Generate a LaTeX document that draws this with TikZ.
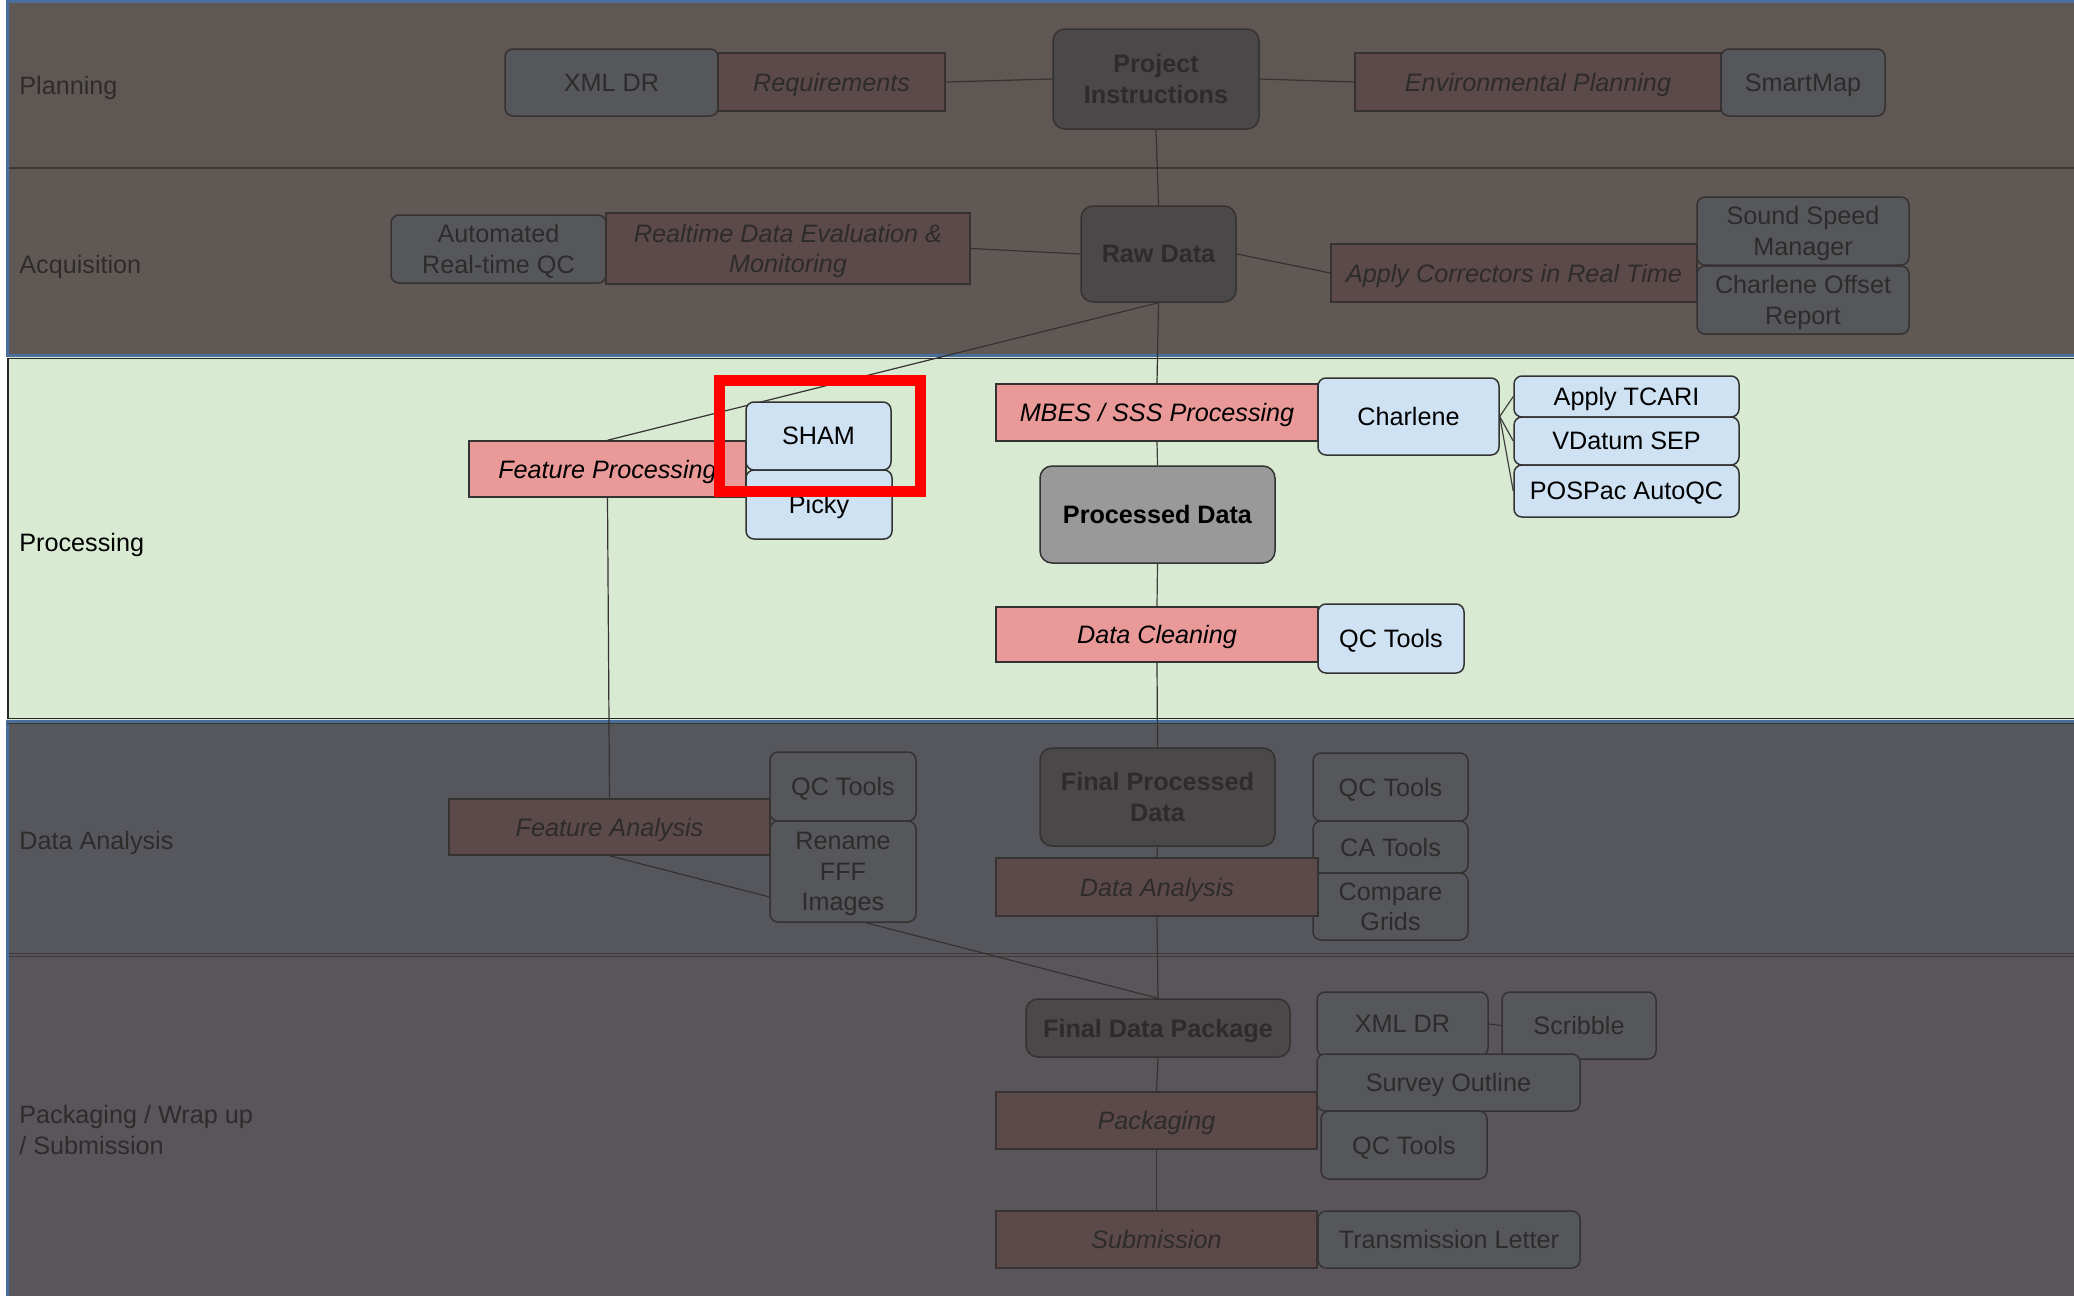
\documentclass[tikz,border=0pt]{standalone}
\usepackage{fontspec}
\setmainfont{Liberation Sans}
\usetikzlibrary{calc}
\definecolor{planbg}{HTML}{5F5753}
\definecolor{acqbg}{HTML}{605854}
\definecolor{procbg}{HTML}{D9EAD3}
\definecolor{dabg}{HTML}{56575C}
\definecolor{packbg}{HTML}{5A555A}
\definecolor{framebl}{HTML}{4A6E9C}
\definecolor{dimred}{HTML}{5C4A4A}
\definecolor{dimgray}{HTML}{55575B}
\definecolor{dimdark}{HTML}{4A4848}
\definecolor{dimline}{HTML}{363232}
\definecolor{dimtext}{HTML}{2E2B2B}
\definecolor{lred}{HTML}{EA9999}
\definecolor{lblue}{HTML}{CFE2F3}
\definecolor{mgray}{HTML}{999999}
\definecolor{sepdark}{HTML}{3D3937}
\pgfdeclarelayer{lanes}
\pgfdeclarelayer{links}
\pgfsetlayers{lanes,links,main}
\newcommand\lanebox[7]{%
  \pgfmathsetmacro\lbcx{(#3+#5)/2}%
  \pgfmathsetmacro\lbcy{(#4+#6)/2}%
  \pgfmathsetmacro\lbw{(#5-#3)*0.5}%
  \pgfmathsetmacro\lbh{(#6-#4)*0.5}%
  \node[#1, minimum width=\lbw pt, minimum height=\lbh pt] (#2) at (\lbcx,\lbcy) {#7};}
\tikzset{
  ftn/.style={font=\fontsize{12.6}{15.2}\selectfont},
  fti/.style={font=\fontsize{12.6}{15.2}\selectfont\itshape},
  ftb/.style={font=\fontsize{12.6}{15.2}\selectfont\bfseries},
  base/.style={inner sep=1pt, align=center, line width=0.75pt, text depth=0pt},
  dred/.style={base, fti, rectangle, draw=dimline, fill=dimred, text=dimtext},
  dgray/.style={base, ftn, rectangle, rounded corners=4pt, draw=dimline, fill=dimgray, text=dimtext},
  ddark/.style={base, ftb, rectangle, rounded corners=6pt, draw=dimline, fill=dimdark, text=dimtext},
  pred/.style={base, fti, rectangle, draw=black!80, fill=lred, text=black},
  pblue/.style={base, ftn, rectangle, rounded corners=4pt, draw=black!80, fill=lblue, text=black},
  pgray/.style={base, ftb, rectangle, rounded corners=6pt, draw=black!80, fill=mgray, text=black},
  lanelabel/.style={ftn, anchor=west, align=left, inner sep=0pt, text depth=0pt},
  conn/.style={draw=dimline, line width=0.6pt},
  pconn/.style={draw=black!75, line width=0.6pt}
}
\begin{document}
\begin{tikzpicture}[x=0.5pt, y=-0.5pt]
\useasboundingbox (0,0) rectangle (2074,1296);
\clip (0,0) rectangle (2074,1296);
\begin{pgfonlayer}{lanes}
\fill[white] (0,0) rectangle (2074,1296);
\fill[planbg] (7,0) rectangle (2074,168);
\fill[acqbg] (7,168) rectangle (2074,356);
\fill[procbg] (7,357) rectangle (2074,720);
\fill[dabg] (7,721) rectangle (2074,955);
\fill[packbg] (7,955) rectangle (2074,1296);
\draw[sepdark, line width=1pt] (7,168) -- (2074,168);
\draw[sepdark, line width=0.6pt] (7,953.5) -- (2074,953.5);
\draw[sepdark, line width=0.6pt] (7,956.5) -- (2074,956.5);
\draw[framebl, line width=1.5pt] (2080,355) -- (7.5,355) -- (7.5,1.5) -- (2080,1.5);
\draw[black!85, line width=0.7pt] (2080,358.5) -- (8,358.5) -- (8,718.5) -- (2080,718.5);
\draw[framebl, line width=1.5pt] (2080,721) -- (7.5,721) -- (7.5,1300);
\draw[sepdark, line width=0.5pt] (7,723.5) -- (2074,723.5);
\node[lanelabel, text=dimtext] (lplan) at (19,85) {Planning};
\node[lanelabel, text=dimtext] (lacq) at (19,264.5) {Acquisition};
\node[lanelabel, text=black] (lproc) at (19,542) {Processing};
\node[lanelabel, text=dimtext] (lda) at (19,840) {Data Analysis};
\node[lanelabel, text=dimtext] (lpack) at (19,1130) {Packaging / Wrap up\\/ Submission};
\end{pgfonlayer}
% Planning
\lanebox{dgray}{xmldr}{505}{49}{718}{116}{XML DR}
\lanebox{dred}{req}{718}{53}{945}{111}{Requirements}
\lanebox{ddark}{pi}{1053}{29}{1259}{129}{Project\\Instructions}
\lanebox{dred}{env}{1355}{53}{1721}{111}{Environmental Planning}
\lanebox{dgray}{smap}{1721}{49}{1885}{116}{SmartMap}
% Acquisition
\lanebox{dgray}{arqc}{391}{215}{606}{283}{Automated\\Real-time QC}
\lanebox{dred}{rtde}{606}{213}{970}{284}{Realtime Data Evaluation \&\\Monitoring}
\lanebox{ddark}{raw}{1081}{206}{1236}{302}{Raw Data}
\lanebox{dred}{apc}{1331}{244}{1697}{302}{Apply Correctors in Real Time}
\lanebox{dgray}{ssm}{1697}{197}{1909}{265}{Sound Speed\\Manager}
\lanebox{dgray}{cor}{1697}{266}{1909}{334}{Charlene Offset\\Report}
% Processing
\lanebox{pred}{fp}{469}{441}{746}{497}{Feature Processing}
\lanebox{pblue}{sham}{746}{402}{891}{470}{SHAM}
\lanebox{pblue}{picky}{746}{470}{892}{539}{Picky}
\lanebox{pred}{mbes}{996}{384}{1318}{441}{MBES / SSS Processing}
\lanebox{pblue}{charl}{1318}{378}{1499}{455}{Charlene}
\lanebox{pblue}{tcari}{1514}{376}{1739}{417}{Apply TCARI}
\lanebox{pblue}{vdat}{1514}{417}{1739}{465}{VDatum SEP}
\lanebox{pblue}{posp}{1514}{465}{1739}{517}{POSPac AutoQC}
\lanebox{pgray}{pd}{1040}{466}{1275}{563}{Processed Data}
\lanebox{pred}{dc}{996}{607}{1318}{662}{Data Cleaning}
\lanebox{pblue}{qcp}{1318}{604}{1464}{673}{QC Tools}
% Data analysis
\lanebox{dgray}{qcfa}{770}{752}{916}{821}{QC Tools}
\lanebox{dgray}{ren}{770}{821}{916}{922}{Rename\\FFF\\Images}
\lanebox{dred}{fa}{449}{799}{770}{855}{Feature Analysis}
\lanebox{ddark}{fpd}{1040}{748}{1275}{846}{Final Processed\\Data}
\lanebox{dgray}{qcda}{1313}{753}{1468}{821}{QC Tools}
\lanebox{dgray}{cat}{1313}{821}{1468}{873}{CA Tools}
\lanebox{dgray}{cg}{1313}{873}{1468}{940}{Compare\\Grids}
\lanebox{dred}{da}{996}{858}{1318}{916}{Data Analysis}
% Packaging
\lanebox{ddark}{fdp}{1026}{999}{1290}{1057}{Final Data Package}
\lanebox{dred}{pack}{996}{1092}{1317}{1149}{Packaging}
\lanebox{dred}{sub}{996}{1211}{1317}{1268}{Submission}
\lanebox{dgray}{xml2}{1317}{992}{1488}{1056}{XML DR}
\lanebox{dgray}{scr}{1502}{992}{1656}{1059}{Scribble}
\lanebox{dgray}{so}{1317}{1054}{1580}{1111}{Survey Outline}
\lanebox{dgray}{qcpk}{1321}{1111}{1487}{1179}{QC Tools}
\lanebox{dgray}{tl}{1318}{1211}{1580}{1268}{Transmission Letter}
% connectors
\begin{pgfonlayer}{links}
\draw[conn] (req.east) -- (pi.west);
\draw[conn] (pi.east) -- (env.west);
\draw[conn] (pi.south) -- (raw.north);
\draw[conn] (rtde.east) -- (raw.west);
\draw[conn] (raw.east) -- (apc.west);
\draw[conn] (raw.south) -- (mbes.north);
\draw[conn] (raw.south) -- (fp.north);
\draw[pconn] (mbes.south) -- (pd.north);
\draw[pconn] (charl.east) -- (tcari.west);
\draw[pconn] (charl.east) -- (vdat.west);
\draw[pconn] (charl.east) -- (posp.west);
\draw[pconn] (pd.south) -- (dc.north);
\draw[conn] (dc.south) -- (fpd.north);
\draw[conn] (fp.south) -- (fa.north);
\draw[conn] (fa.south) -- (ren.199);
\draw[conn] (ren.-66) -- (fdp.north);
\draw[conn] (fpd.south) -- (da.north);
\draw[conn] (da.south) -- (fdp.north);
\draw[conn] (fdp.south) -- (pack.north);
\draw[conn] (pack.south) -- (sub.north);
\draw[conn] (xml2.east) -- (scr.west);
\end{pgfonlayer}
% highlight
\draw[red, line width=5.5pt] (719.5,380) rectangle (920.5,491.5);
\end{tikzpicture}
\end{document}
